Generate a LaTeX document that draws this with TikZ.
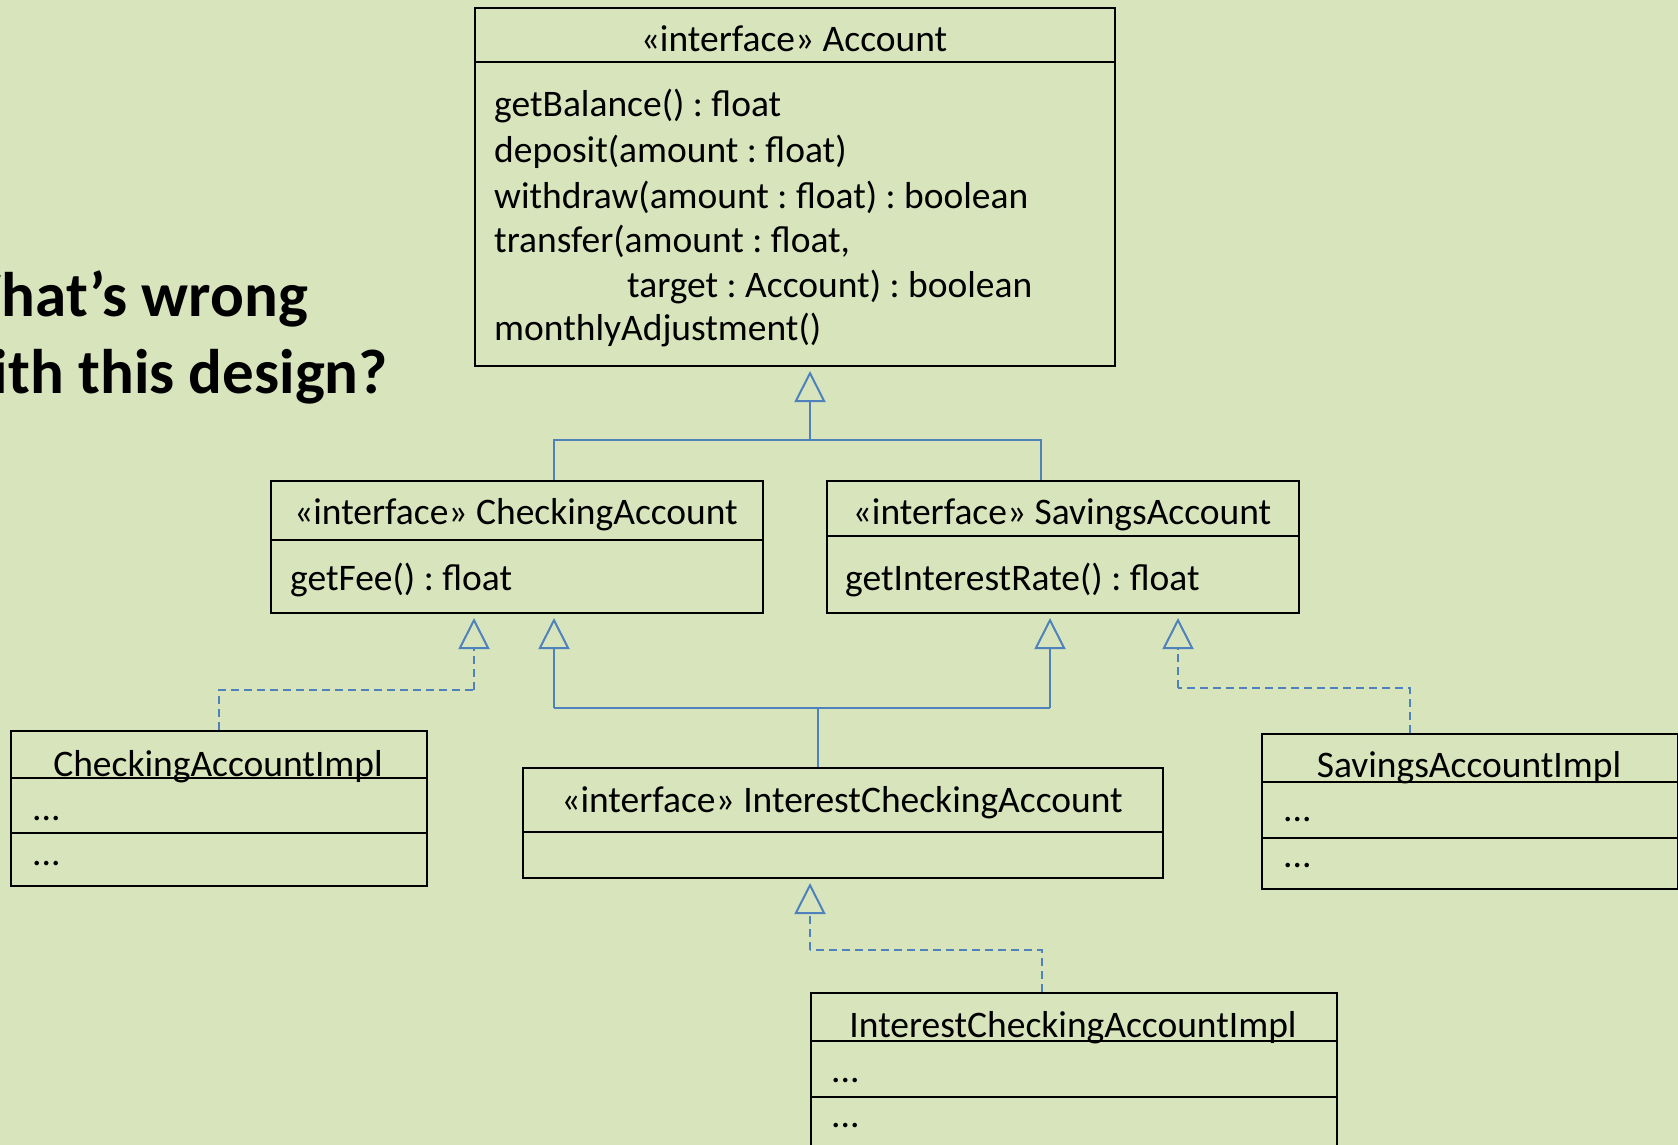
\documentclass[tikz,border=0pt]{standalone}
\usepackage{fontspec}
\setmainfont{Carlito}
\usetikzlibrary{arrows.meta}
\frenchspacing
\definecolor{bg}{HTML}{D8E4BC}
\definecolor{umlblue}{HTML}{4F81BD}
\tikzset{
  cls/.style={draw=black, line width=2pt, inner sep=0pt, anchor=north west},
  divider/.style={draw=black, line width=2pt},
  txt/.style={inner sep=0pt, font=\fontsize{37.5}{45}\selectfont},
  headline/.style={inner sep=0pt, anchor=base east, font=\fontsize{63}{76}\selectfont\bfseries},
  genline/.style={draw=umlblue, line width=2pt},
  gen/.style={genline, -{Triangle[open, length=31pt, width=31pt]}, shorten >=4pt},
  real/.style={gen, dash pattern=on 8pt off 5pt},
  realline/.style={genline, dash pattern=on 8pt off 5pt},
}
\begin{document}
\begin{tikzpicture}[x=1pt, y=-1pt]
\useasboundingbox (0,0) rectangle (1678,1145);
\clip (0,0) rectangle (1678,1145);
\fill[bg] (0,0) rectangle (1678,1145);

% question, running off the left edge
\node[headline] (q1) at (308,316) {What’s wrong};
\node[headline] (q2) at (388,393) {with this design?};

% interface Account
\node[cls, minimum width=640pt, minimum height=358pt] (acct) at (474,7) {};
\draw[divider] (acct.west |- 0,62) -- (acct.east |- 0,62);
\node[txt, anchor=base] (accH) at (794,52) {«interface» Account};
\node[txt, anchor=base west] (accM1) at (494,117) {getBalance() : float};
\node[txt, anchor=base west] (accM2) at (494,162) {deposit(amount : float)};
\node[txt, anchor=base west] (accM3) at (494,208) {withdraw(amount : float) : boolean};
\node[txt, anchor=base west] (accM4) at (494,252) {transfer(amount : float,};
\node[txt, anchor=base west] (accM5) at (627,297) {target : Account) : boolean};
\node[txt, anchor=base west] (accM6) at (494,340) {monthlyAdjustment()};

% interface CheckingAccount
\node[cls, minimum width=492pt, minimum height=132pt] (chk) at (270,480) {};
\draw[divider] (chk.west |- 0,540) -- (chk.east |- 0,540);
\node[txt, anchor=base] (chkH) at (516,524) {«interface» CheckingAccount};
\node[txt, anchor=base west] (chkM1) at (290,590) {getFee() : float};

% interface SavingsAccount
\node[cls, minimum width=472pt, minimum height=132pt] (sav) at (826,480) {};
\draw[divider] (sav.west |- 0,536) -- (sav.east |- 0,536);
\node[txt, anchor=base] (savH) at (1062,524) {«interface» SavingsAccount};
\node[txt, anchor=base west] (savM1) at (845,590) {getInterestRate() : float};

% interface InterestCheckingAccount
\node[cls, minimum width=640pt, minimum height=110pt] (ica) at (522,767) {};
\draw[divider] (ica.west |- 0,832) -- (ica.east |- 0,832);
\node[txt, anchor=base] (icaH) at (842,812) {«interface» InterestCheckingAccount};

% CheckingAccountImpl
\node[cls, minimum width=416pt, minimum height=155pt] (chkI) at (10,730) {};
\draw[divider] (chkI.west |- 0,778) -- (chkI.east |- 0,778);
\draw[divider] (chkI.west |- 0,833) -- (chkI.east |- 0,833);
\node[txt, anchor=base] (chkIH) at (218,776) {CheckingAccountImpl};
\node[txt, anchor=base west] (chkIA) at (32,820) {...};
\node[txt, anchor=base west] (chkIO) at (32,865) {...};

% SavingsAccountImpl
\node[cls, minimum width=416pt, minimum height=155pt] (savI) at (1261,733) {};
\draw[divider] (savI.west |- 0,782) -- (savI.east |- 0,782);
\draw[divider] (savI.west |- 0,838) -- (savI.east |- 0,838);
\node[txt, anchor=base] (savIH) at (1469,777) {SavingsAccountImpl};
\node[txt, anchor=base west] (savIA) at (1283,821) {...};
\node[txt, anchor=base west] (savIO) at (1283,867) {...};

% InterestCheckingAccountImpl
\node[cls, minimum width=526pt, minimum height=180pt] (icaI) at (810,992) {};
\draw[divider] (icaI.west |- 0,1041) -- (icaI.east |- 0,1041);
\draw[divider] (icaI.west |- 0,1097) -- (icaI.east |- 0,1097);
\node[txt, anchor=base] (icaIH) at (1073,1037) {InterestCheckingAccountImpl};
\node[txt, anchor=base west] (icaIA) at (831,1082) {...};
\node[txt, anchor=base west] (icaIO) at (831,1127) {...};

% junction points of the connectors
\coordinate (busA) at (810,440);
\coordinate (busB) at (818,708);
\coordinate (xL) at (554,0);
\coordinate (xR) at (1041,0);
\coordinate (xS) at (1050,0);
\coordinate (chkR) at (474,690);
\coordinate (savR) at (1178,688);
\coordinate (icaR) at (810,950);

% generalisation: CheckingAccount, SavingsAccount -> Account
\draw[genline] (chk.north -| xL) -- (xL |- busA) -- (xR |- busA) -- (sav.north -| xR);
\draw[gen] (busA) -- (acct.south -| busA);

% generalisation: InterestCheckingAccount -> CheckingAccount, SavingsAccount
\draw[genline] (ica.north -| busB) -- (busB);
\draw[genline] (xL |- busB) -- (xS |- busB);
\draw[gen] (xL |- busB) -- (chk.south -| xL);
\draw[gen] (xS |- busB) -- (sav.south -| xS);

% realisations
\draw[realline] (chkI.north) -- (chkI.north |- chkR) -- (chkR);
\draw[real] (chkR) -- (chk.south -| chkR);
\draw[realline] (savI.north -| 1410,0) -- (1410,688) -- (savR);
\draw[real] (savR) -- (sav.south -| savR);
\draw[realline] (icaI.north -| 1042,0) -- (1042,950) -- (icaR);
\draw[real] (icaR) -- (ica.south -| icaR);
\end{tikzpicture}
\end{document}
